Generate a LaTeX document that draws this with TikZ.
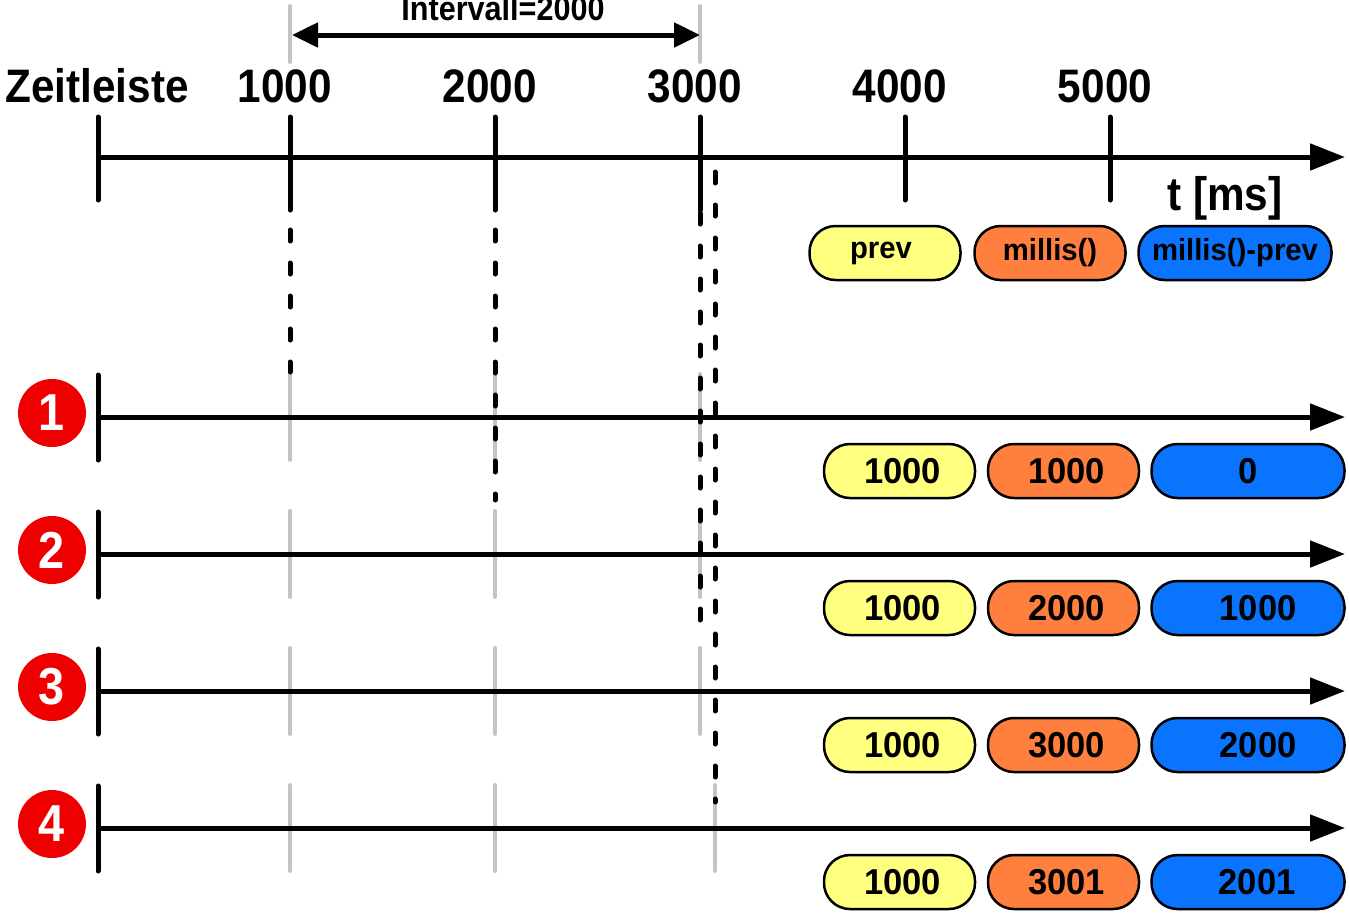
\documentclass[tikz,border=0pt]{standalone}
\usepackage{fontspec}
\setmainfont{Liberation Sans}[FakeStretch=0.9]
\newfontfamily\pillfont{Liberation Sans}[FakeStretch=0.96]
\usetikzlibrary{arrows.meta}
\definecolor{pyel}{HTML}{FFFF80}
\definecolor{porg}{HTML}{FF7F3F}
\definecolor{pblu}{HTML}{0A74FF}
\definecolor{tgrey}{HTML}{C4C4C4}
\definecolor{cred}{HTML}{EE0000}
\begin{document}
\begin{tikzpicture}[x=1pt,y=-1pt,
  axis/.style={line width=5pt,-{Triangle[length=35pt,width=26pt]}},
  dbl/.style={line width=5pt,{Triangle[length=26pt,width=24pt]}-{Triangle[length=26pt,width=24pt]}},
  tick/.style={line width=5pt,line cap=round},
  gtick/.style={line width=4pt,draw=tgrey,line cap=round},
  dline/.style={line width=5pt,line cap=round,dash pattern=on 11pt off 22pt},
  pill/.style={draw=black,line width=2.5pt,rounded corners=26pt,minimum width=151pt,minimum height=54pt,inner sep=0pt,font=\pillfont\fontsize{36}{40}\selectfont\bfseries},
  lpill/.style={pill,font=\pillfont\fontsize{30.5}{36}\selectfont\bfseries},
  big/.style={anchor=base,inner sep=0pt,font=\fontsize{47}{52}\selectfont\bfseries},
  num/.style={circle,fill=cred,minimum size=68pt,inner sep=0pt,text=white,font=\fontsize{52}{56}\selectfont\bfseries}
]
\useasboundingbox (0,0) rectangle (1349,914);

% grey reference lines at top
\coordinate (gi1t) at (290,6); \coordinate (gi1b) at (290,62);
\coordinate (gi2t) at (700,6); \coordinate (gi2b) at (700,62);
\draw[gtick] (gi1t) -- (gi1b);
\draw[gtick] (gi2t) -- (gi2b);
\coordinate (ia) at (292,35); \coordinate (ib) at (700,35);
\draw[dbl] (ia) -- (ib);
\node[anchor=base,inner sep=0pt,font=\fontsize{34}{38}\selectfont\bfseries] (intv) at (503,20) {Intervall=2000};

% top axis
\node[big] (zl) at (97,102) {Zeitleiste};
\node[big] (l1) at (285,102) {1000};
\node[big] (l2) at (490,102) {2000};
\node[big] (l3) at (695,102) {3000};
\node[big] (l4) at (900,102) {4000};
\node[big] (l5) at (1105,102) {5000};
\node[big] (tms) at (1225,210) {t [ms]};

\coordinate (a0s) at (98,157); \coordinate (a0e) at (1345,157);
\draw[axis] (a0s) -- (a0e);
\foreach \x/\b [count=\i] in {98/200,290/210,495/210,700/210,905/200,1110/200}{
  \coordinate (tt\i) at (\x,117); \coordinate (tb\i) at (\x,\b);
  \draw[tick] (tt\i) -- (tb\i);
}

% legend pills
\node[lpill,fill=pyel] (lp) at (885,253) {\hspace*{-8pt}prev};
\node[lpill,fill=porg] (lm) at (1050,253) {millis()};
\node[lpill,fill=pblu,minimum width=193pt] (ld) at (1235,253) {millis()-prev};

% rows
\foreach \r/\y/\gx/\pv/\mv/\dv/\ds in {1/417/700/1000/1000/0/0,2/554/700/1000/2000/1000/20,3/691/700/1000/3000/2000/20,4/828/715/1000/3001/2001/18}{
  \node[num] (c\r) at (52,\y-4) {\r};
  \foreach \x [count=\j] in {290,495,\gx}{
    \coordinate (g\r\j t) at (\x,\y-43); \coordinate (g\r\j b) at (\x,\y+43);
    \draw[gtick] (g\r\j t) -- (g\r\j b);
  }
  \coordinate (r\r s) at (98,\y); \coordinate (r\r e) at (1345,\y);
  \coordinate (r\r t) at (98,\y-42); \coordinate (r\r b) at (98,\y+43);
  \draw[axis] (r\r s) -- (r\r e);
  \draw[tick] (r\r t) -- (r\r b);
  \node[pill,fill=pyel] (p\r) at (899.5,\y+54) {\hspace*{6pt}\pv};
  \node[pill,fill=porg] (m\r) at (1063.5,\y+54) {\hspace*{6pt}\mv};
  \node[pill,fill=pblu,minimum width=193pt] (d\r) at (1248,\y+54) {\hspace*{\ds pt}\dv};
}

% dashed guide lines
\coordinate (d1a) at (290,230); \coordinate (d1b) at (290,372);
\coordinate (d2a) at (495,230); \coordinate (d2b) at (495,500);
\coordinate (d3a) at (700,213); \coordinate (d3b) at (700,637);
\coordinate (d4a) at (715,172); \coordinate (d4b) at (715,802);
\draw[dline] (d1a) -- (d1b);
\draw[dline] (d2a) -- (d2b);
\draw[dline] (d3a) -- (d3b);
\draw[dline] (d4a) -- (d4b);
\end{tikzpicture}
\end{document}
